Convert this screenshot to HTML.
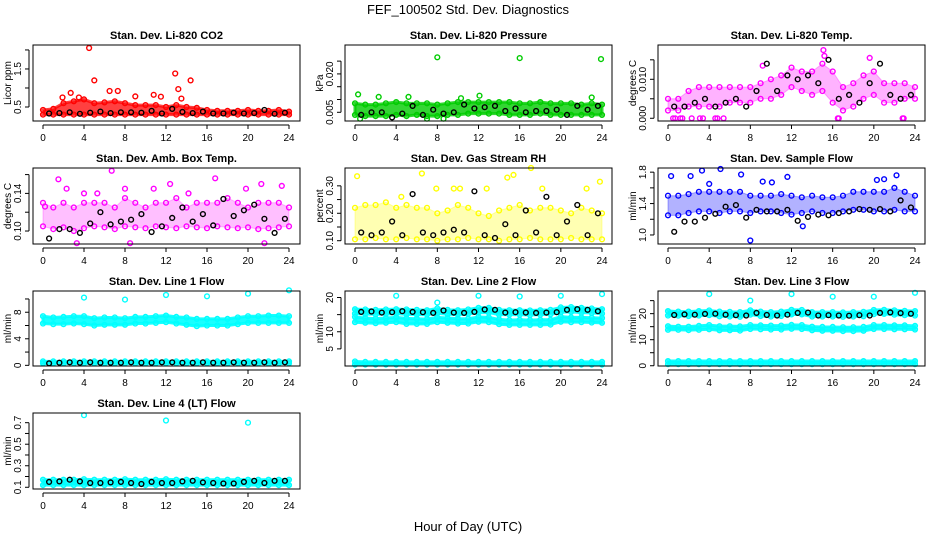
<!DOCTYPE html>
<html><head><meta charset="utf-8"><style>
html,body{margin:0;padding:0;background:#fff;}
svg{display:block;font-family:"Liberation Sans",Arial,sans-serif;}
</style></head><body>
<svg id="chart" width="936" height="540" viewBox="0 0 936 540">
<text x="468" y="14" text-anchor="middle" font-size="13">FEF_100502  Std. Dev. Diagnostics</text>
<text x="468" y="531" text-anchor="middle" font-size="13">Hour of Day (UTC)</text>
</svg>
<script>
// ---- data (hourly envelopes, black half-hour series, outliers) ----
const hours = [0,1,2,3,4,5,6,7,8,9,10,11,12,13,14,15,16,17,18,19,20,21,22,23,24];
const blackX = [0.6,1.6,2.6,3.6,4.6,5.6,6.6,7.6,8.6,9.6,10.6,11.6,12.6,13.6,14.6,15.6,16.6,17.6,18.6,19.6,20.6,21.6,22.6,23.6];
const xTicks = [0,4,8,12,16,20,24];

const co2Hi = [0.42,0.45,0.6,0.65,0.7,0.6,0.62,0.65,0.6,0.55,0.55,0.55,0.5,0.55,0.5,0.48,0.42,0.4,0.4,0.4,0.42,0.4,0.4,0.42,0.38];
const co2Lo = [0.3,0.3,0.3,0.3,0.3,0.3,0.3,0.3,0.3,0.3,0.3,0.3,0.3,0.3,0.3,0.3,0.3,0.3,0.3,0.3,0.3,0.3,0.3,0.3,0.3];
const co2Black = [0.33,0.34,0.36,0.32,0.35,0.38,0.34,0.36,0.36,0.35,0.4,0.33,0.45,0.37,0.34,0.38,0.33,0.33,0.35,0.33,0.34,0.42,0.32,0.35];
const co2OutX = [4.5,5,12.9,14.4,13.2,2.7,6.5,7.3,1.9,3.5,9,10.8,11.5,13.5];
const co2OutY = [2.05,1.2,1.38,1.2,0.97,0.87,0.92,0.92,0.75,0.75,0.78,0.82,0.77,0.72];

const presHi = [0.0085,0.008,0.008,0.0085,0.009,0.0085,0.0085,0.0085,0.008,0.0085,0.009,0.009,0.009,0.009,0.009,0.009,0.0085,0.0085,0.009,0.0085,0.0085,0.0085,0.008,0.0085,0.008];
const presLo = [0.004,0.0035,0.0035,0.0035,0.004,0.0035,0.004,0.0035,0.0035,0.004,0.004,0.0045,0.0045,0.0045,0.0045,0.004,0.004,0.004,0.0045,0.004,0.004,0.004,0.004,0.004,0.004];
const presBlack = [0.004,0.005,0.005,0.003,0.0045,0.0075,0.004,0.006,0.0045,0.005,0.008,0.0065,0.007,0.0075,0.0055,0.0065,0.005,0.0055,0.0055,0.006,0.004,0.0075,0.006,0.0075];
const presOutX = [8,16,23.9,0.3,2.3,5.2,12.1,23,10.3,0.5,7,8.6];
const presOutY = [0.0265,0.0262,0.0258,0.012,0.011,0.011,0.0115,0.0108,0.0105,0.0025,0.0025,0.0025];

const tempHi = [0.005,0.005,0.007,0.008,0.008,0.008,0.008,0.008,0.008,0.009,0.010,0.011,0.013,0.012,0.012,0.014,0.012,0.008,0.009,0.011,0.012,0.009,0.009,0.009,0.008];
const tempLo = [0.002,0.002,0.003,0.003,0.003,0.003,0.004,0.004,0.004,0.005,0.005,0.006,0.008,0.007,0.006,0.007,0.004,0.002,0.003,0.005,0.006,0.004,0.004,0.005,0.005];
const tempBlack = [0.003,0.003,0.004,0.005,0.003,0.004,0.005,0.003,0.007,0.014,0.007,0.011,0.010,0.011,0.009,0.015,0.005,0.006,0.004,0.009,0.014,0.006,0.005,0.006];
const tempOutX = [0.5,0.7,1.2,1.4,2.3,3.1,3.4,4.6,4.8,5.4,16.5,16.6,22.8,22.9,15.1,19.6,9.2,15.2];
const tempOutY = [0,0,0,0,0,0,0,0,0,0,0,0,0,0,0.0175,0.0155,0.0135,0.016];

const ambHi = [0.13,0.125,0.13,0.125,0.13,0.13,0.13,0.125,0.135,0.13,0.125,0.13,0.13,0.135,0.125,0.13,0.13,0.13,0.135,0.13,0.125,0.13,0.13,0.13,0.125];
const ambLo = [0.105,0.102,0.104,0.1,0.103,0.105,0.104,0.102,0.105,0.104,0.103,0.105,0.104,0.103,0.105,0.104,0.103,0.105,0.104,0.103,0.104,0.102,0.103,0.104,0.105];
const ambBlack = [0.092,0.102,0.102,0.098,0.108,0.12,0.107,0.11,0.112,0.118,0.099,0.105,0.114,0.125,0.11,0.118,0.106,0.134,0.116,0.122,0.128,0.113,0.098,0.113];
const ambOutX = [1.5,2.3,6.7,12.4,16.8,21.3,23.3,8,4,3.3,8.5,21.6,10.8,19.8,0.2,5.3,14.2];
const ambOutY = [0.155,0.145,0.164,0.15,0.156,0.15,0.148,0.145,0.14,0.087,0.087,0.087,0.145,0.145,0.126,0.14,0.14];

const rhHi = [0.22,0.23,0.23,0.24,0.22,0.23,0.22,0.22,0.2,0.21,0.23,0.22,0.2,0.19,0.21,0.22,0.23,0.21,0.22,0.22,0.21,0.2,0.22,0.21,0.2];
const rhLo = [0.105,0.105,0.11,0.105,0.105,0.11,0.105,0.105,0.1,0.105,0.105,0.11,0.105,0.105,0.1,0.105,0.105,0.11,0.105,0.105,0.105,0.11,0.105,0.105,0.105];
const rhBlack = [0.13,0.12,0.13,0.17,0.12,0.27,0.13,0.12,0.13,0.14,0.13,0.28,0.12,0.11,0.16,0.12,0.21,0.13,0.26,0.12,0.17,0.23,0.12,0.2];
const rhOutX = [0.2,6.5,7.9,15.4,14.8,17.1,23.8,18.2,12.8,9.6,22.5,4.5,10.2];
const rhOutY = [0.335,0.345,0.29,0.34,0.33,0.365,0.315,0.29,0.29,0.29,0.29,0.26,0.29];

const flowHi = [1.5,1.5,1.52,1.55,1.55,1.55,1.55,1.55,1.5,1.5,1.5,1.52,1.5,1.48,1.5,1.48,1.48,1.5,1.55,1.55,1.55,1.55,1.6,1.55,1.5];
const flowLo = [1.25,1.25,1.28,1.3,1.3,1.28,1.3,1.3,1.28,1.3,1.3,1.28,1.26,1.28,1.3,1.28,1.28,1.3,1.32,1.32,1.3,1.3,1.32,1.3,1.3];
const flowBlack = [1.04,1.17,1.17,1.22,1.27,1.36,1.38,1.22,1.32,1.3,1.3,1.32,1.18,1.23,1.26,1.25,1.28,1.3,1.33,1.32,1.33,1.3,1.44,1.35];
const flowOutX = [0.3,2.2,3.3,5.1,7.1,8,11.6,13.1,22.2,20.3,21,9.2,10.1,4];
const flowOutY = [1.75,1.75,1.82,1.84,1.77,0.93,1.74,1.11,1.76,1.7,1.71,1.68,1.67,1.65];

const l1Hi = [7.4,7.2,7.3,7.4,7.4,7.1,7.2,7.2,7.1,7.3,7.3,7.4,7.5,7.3,7.2,7,7,7,7,7.2,7.4,7.4,7.5,7.5,7.4];
const l1Lo = [6.3,6.2,6.2,6.3,6.2,6.0,6.1,6.1,6.1,6.3,6.3,6.4,6.5,6.3,6.1,5.9,6,6,6,6.2,6.4,6.4,6.4,6.4,6.4];
const l1BotHi = [0.6,0.6,0.6,0.6,0.6,0.6,0.6,0.6,0.6,0.6,0.6,0.6,0.6,0.6,0.6,0.6,0.6,0.6,0.6,0.6,0.6,0.6,0.6,0.6,0.6];
const l1BotLo = [0.3,0.3,0.3,0.3,0.3,0.3,0.3,0.3,0.3,0.3,0.3,0.3,0.3,0.3,0.3,0.3,0.3,0.3,0.3,0.3,0.3,0.3,0.3,0.3,0.3];
const l1Black = [0.3,0.4,0.45,0.4,0.45,0.4,0.4,0.4,0.45,0.4,0.4,0.45,0.45,0.4,0.4,0.45,0.4,0.4,0.45,0.4,0.4,0.45,0.4,0.45];
const l1OutX = [4,8,12,16,20,24];
const l1OutY = [10.2,9.9,10.6,10.4,10.8,11.3];

const l2Hi = [16.6,16.5,16.4,16.5,16.6,16.5,16.4,16.3,16.8,16.4,16.3,16.5,17,17,16.4,16.3,16.3,16.2,16.3,16.4,17.1,17.2,17,16.8,16.6];
const l2Lo = [15.3,15.2,15.1,15.2,15.3,15.1,15,15,15.4,15.1,15,15.2,15.6,15.6,15,15,15,14.9,15,15.1,15.7,15.8,15.6,15.5,15.3];
const l2MidHi = [14.3,14,13.8,14,14.2,13.9,13.8,13.7,14.2,14,13.8,13.8,14.3,14.2,13.6,13.4,13.5,13.4,13.5,13.5,14.4,14.2,14.2,14.1,14];
const l2MidLo = [12.8,12.6,12.5,12.6,12.8,12.3,12.3,12.3,12.8,12.6,12.4,12.4,12.9,12.8,12.2,12,12,12,12,12.1,12.9,12.8,12.8,12.7,12.6];
const l2BotHi = [1.3,1.2,1.2,1.2,1.2,1.2,1.2,1.2,1.2,1.2,1.2,1.2,1.2,1.2,1.2,1.2,1.2,1.2,1.2,1.2,1.2,1.2,1.2,1.2,1.2];
const l2BotLo = [0.4,0.4,0.4,0.4,0.4,0.4,0.4,0.4,0.4,0.4,0.4,0.4,0.4,0.4,0.4,0.4,0.4,0.4,0.4,0.4,0.4,0.4,0.4,0.4,0.4];
const l2Black = [15.8,15.9,15.6,15.7,16,15.8,15.7,15.5,16.2,15.6,15.5,15.8,16.5,16.4,15.6,15.7,15.6,15.5,15.6,15.7,16.4,16.6,16.4,16];
const l2OutX = [4,8,12,16,20,24];
const l2OutY = [20.5,18.5,20.5,20.3,20.5,21];

const l3Hi = [21,20.8,20.8,21,21.2,20.8,20.7,20.6,21.3,20.8,20.6,20.8,21.5,21.4,20.6,20.6,20.6,20.5,20.6,20.7,21.4,21.5,21.3,21.1,21];
const l3Lo = [19.3,19.2,19.1,19.3,19.4,19,18.9,18.8,19.6,19.1,18.9,19.1,19.7,19.7,18.9,18.9,18.9,18.8,18.9,19,19.8,19.9,19.6,19.4,19.3];
const l3MidHi = [15.2,15,15,15.3,15.6,15.2,15.2,15.1,15.6,15.5,15.4,15.4,15.7,15.6,15,14.9,14.9,14.8,14.8,14.9,15.6,15.6,15.5,15.5,15.3];
const l3MidLo = [13.8,13.8,13.7,13.8,14,13.6,13.6,13.5,14.1,14,13.9,13.9,14.2,14.1,13.6,13.4,13.4,13.3,13.3,13.4,14.1,14.1,14,14,13.9];
const l3BotHi = [1.8,1.8,1.8,1.8,1.8,1.8,1.8,1.8,1.8,1.8,1.8,1.8,1.8,1.8,1.8,1.8,1.8,1.8,1.8,1.8,1.8,1.8,1.8,1.8,1.8];
const l3BotLo = [0.6,0.6,0.6,0.6,0.6,0.6,0.6,0.6,0.6,0.6,0.6,0.6,0.6,0.6,0.6,0.6,0.6,0.6,0.6,0.6,0.6,0.6,0.6,0.6,0.6];
const l3Black = [19.5,19.7,19.6,19.9,20,19.6,19.4,19.3,20.3,19.5,19.3,19.6,20.3,20.4,19.3,19.4,19.3,19.2,19.4,19.3,20.3,20.5,20.2,20];
const l3OutX = [4,8,12,16,20,24];
const l3OutY = [27.5,25,27.5,26.5,26.5,28];

const l4Hi = [0.17,0.17,0.17,0.17,0.175,0.17,0.17,0.17,0.175,0.17,0.17,0.17,0.175,0.17,0.17,0.17,0.17,0.17,0.17,0.17,0.17,0.17,0.17,0.17,0.17];
const l4Lo = [0.12,0.12,0.12,0.12,0.12,0.12,0.12,0.12,0.12,0.12,0.12,0.12,0.12,0.12,0.12,0.12,0.12,0.12,0.12,0.12,0.12,0.12,0.12,0.12,0.12];
const l4Black = [0.15,0.155,0.17,0.155,0.14,0.14,0.145,0.15,0.14,0.13,0.15,0.14,0.14,0.155,0.16,0.145,0.14,0.135,0.135,0.15,0.16,0.14,0.16,0.16];
const l4OutX = [4,12,20];
const l4OutY = [0.77,0.72,0.70];

// ---- layout ----
const cols = [{x0:43,x24:289,l:33,r:300},{x0:355,x24:602,l:345,r:612},{x0:668,x24:915,l:658,r:925}];
const rows = [{t:45,b:121},{t:168,b:244},{t:291,b:366},{t:413,b:489}];

const panels = [
 {name:'co2',title:'Stan. Dev. Li-820 CO2',ylab:'Licor ppm',c:0,r:0,ymin:0.132,ymax:2.13,ticks:[0.5,1,1.5,2],labels:[0.5,1.5],fmt:v=>v.toString(),col:'#ff0000',op:0.75,bands:[[co2Hi,co2Lo]],black:co2Black,ox:co2OutX,oy:co2OutY},
 {name:'pressure',title:'Stan. Dev. Li-820 Pressure',ylab:'kPa',c:1,r:0,ymin:0.0016,ymax:0.0313,ticks:[0.005,0.01,0.015,0.02,0.025],labels:[0.005,0.02],fmt:v=>v.toFixed(3),col:'#00cc00',op:0.8,bands:[[presHi,presLo]],black:presBlack,ox:presOutX,oy:presOutY},
 {name:'temp',title:'Stan. Dev. Li-820 Temp.',ylab:'degrees C',c:2,r:0,ymin:-0.0007,ymax:0.0188,ticks:[0,0.005,0.01,0.015],labels:[0,0.01],fmt:v=>v.toFixed(3),col:'#ff00ff',op:0.3,bands:[[tempHi,tempLo]],black:tempBlack,ox:tempOutX,oy:tempOutY},
 {name:'amb-box-temp',title:'Stan. Dev. Amb. Box Temp.',ylab:'degrees C',c:0,r:1,ymin:0.0862,ymax:0.167,ticks:[0.1,0.12,0.14,0.16],labels:[0.1,0.14],fmt:v=>v.toFixed(2),col:'#ff00ff',op:0.25,bands:[[ambHi,ambLo]],black:ambBlack,ox:ambOutX,oy:ambOutY},
 {name:'gas-rh',title:'Stan. Dev. Gas Stream RH',ylab:'percent',c:1,r:1,ymin:0.088,ymax:0.365,ticks:[0.1,0.15,0.2,0.25,0.3],labels:[0.1,0.2,0.3],fmt:v=>v.toFixed(2),col:'#ffff00',op:0.3,bands:[[rhHi,rhLo]],black:rhBlack,ox:rhOutX,oy:rhOutY},
 {name:'sample-flow',title:'Stan. Dev. Sample Flow',ylab:'ml/min',c:2,r:1,ymin:0.885,ymax:1.853,ticks:[1,1.2,1.4,1.6,1.8],labels:[1,1.4,1.8],fmt:v=>v.toFixed(1),col:'#0000ff',op:0.3,bands:[[flowHi,flowLo]],black:flowBlack,ox:flowOutX,oy:flowOutY},
 {name:'line1-flow',title:'Stan. Dev. Line 1 Flow',ylab:'ml/min',c:0,r:2,ymin:-0.1,ymax:11.2,ticks:[0,2,4,6,8,10],labels:[0,4,8],fmt:v=>v.toString(),col:'#00ffff',op:0.9,bands:[[l1Hi,l1Lo],[l1BotHi,l1BotLo]],black:l1Black,ox:l1OutX,oy:l1OutY},
 {name:'line2-flow',title:'Stan. Dev. Line 2 Flow',ylab:'ml/min',c:1,r:2,ymin:0,ymax:21.9,ticks:[5,10,15,20],labels:[5,10,20],fmt:v=>v.toString(),col:'#00ffff',op:0.9,bands:[[l2Hi,l2Lo],[l2MidHi,l2MidLo],[l2BotHi,l2BotLo]],black:l2Black,ox:l2OutX,oy:l2OutY},
 {name:'line3-flow',title:'Stan. Dev. Line 3 Flow',ylab:'ml/min',c:2,r:2,ymin:-0.1,ymax:28.7,ticks:[0,5,10,15,20,25],labels:[0,10,20],fmt:v=>v.toString(),col:'#00ffff',op:0.9,bands:[[l3Hi,l3Lo],[l3MidHi,l3MidLo],[l3BotHi,l3BotLo]],black:l3Black,ox:l3OutX,oy:l3OutY},
 {name:'line4-flow',title:'Stan. Dev. Line 4 (LT) Flow',ylab:'ml/min',c:0,r:3,ymin:0.084,ymax:0.79,ticks:[0.1,0.2,0.3,0.4,0.5,0.6,0.7],labels:[0.1,0.3,0.5,0.7],fmt:v=>v.toString(),col:'#00ffff',op:0.9,bands:[[l4Hi,l4Lo]],black:l4Black,ox:l4OutX,oy:l4OutY}
];

const NS='http://www.w3.org/2000/svg';
const svg=document.getElementById('chart');
function mk(tag,attrs,parent){const e=document.createElementNS(NS,tag);for(const k in attrs)e.setAttribute(k,attrs[k]);(parent||svg).appendChild(e);return e;}
function dot(g,x,y,color){
  const c=mk('circle',{cx:x.toFixed(1),cy:y.toFixed(1),r:2.4,fill:'none',stroke:color,'stroke-width':1.4},g);
  
  
}

panels.forEach(p=>{
  const C=cols[p.c],R=rows[p.r];
  const sx=h=>C.x0+(C.x24-C.x0)*h/24;
  const sy=v=>R.b-(v-p.ymin)/(p.ymax-p.ymin)*(R.b-R.t);
  const g=mk('g',{});
  
  
  const clip=mk('g',{},g);
  const sw=p.op>0.5?3:1;
  p.bands.forEach(b=>{
    const hi=b[0],lo=b[1];
    let pts=hours.map((h,i)=>sx(h)+','+sy(hi[i])).concat(hours.map((h,i)=>sx(h)+','+sy(lo[i])).reverse());
    const poly=mk('polygon',{points:pts.join(' '),fill:p.col,'fill-opacity':p.op,stroke:p.col,'stroke-width':sw,'stroke-opacity':p.op},clip);
    
    
    hours.forEach((h,i)=>{dot(clip,sx(h),sy(hi[i]),p.col);dot(clip,sx(h),sy(lo[i]),p.col);});
  });
  p.ox.forEach((x,i)=>dot(clip,sx(x),sy(p.oy[i]),p.col));
  p.black.forEach((v,i)=>dot(clip,sx(blackX[i]),sy(v),'#000'));
  const box=mk('rect',{x:C.l,y:R.t,width:C.r-C.l,height:R.b-R.t,fill:'none',stroke:'#000','stroke-width':1},g);
  
  
  const t=mk('text',{x:(C.l+C.r)/2,y:R.t-6,'text-anchor':'middle','font-size':11,'font-weight':'bold'},g);
  t.textContent=p.title;
  
  
  mk('line',{x1:sx(0),x2:sx(24),y1:R.b+4,y2:R.b+4,stroke:'#000'},g);
  xTicks.forEach(h=>{
    mk('line',{x1:sx(h),x2:sx(h),y1:R.b+4,y2:R.b+8,stroke:'#000'},g);
    const lt=mk('text',{x:sx(h),y:R.b+20,'text-anchor':'middle','font-size':10},g);
    lt.textContent=h;
    
    
  });
  const ax=C.l-4;
  mk('line',{x1:ax,x2:ax,y1:sy(p.ticks[0]),y2:sy(p.ticks[p.ticks.length-1]),stroke:'#000'},g);
  p.ticks.forEach(v=>mk('line',{x1:ax-4,x2:ax,y1:sy(v),y2:sy(v),stroke:'#000'},g));
  p.labels.forEach(v=>{
    const yy=sy(v);
    const lt=mk('text',{x:0,y:0,'text-anchor':'middle','font-size':10,transform:'translate('+(ax-8)+','+yy+') rotate(-90)'},g);
    lt.textContent=p.fmt(v);
    
    
  });
  const yl=mk('text',{x:0,y:0,'text-anchor':'middle','font-size':10,transform:'translate('+(C.l-22)+','+((R.t+R.b)/2)+') rotate(-90)'},g);
  yl.textContent=p.ylab;
  
  
});
</script>
</body></html>
